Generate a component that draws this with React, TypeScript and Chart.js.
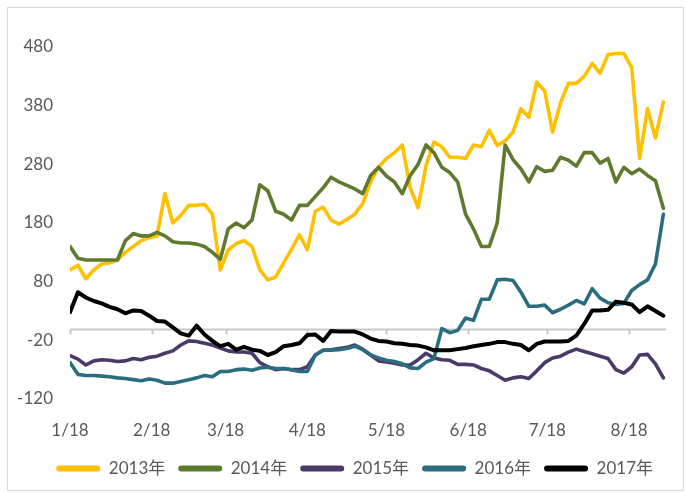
import React, { useEffect, useRef } from "react";
import { Chart, registerables } from "chart.js";

Chart.register(...registerables);

// x positions: days since Jan 18
const dayOffsets = [
  0, 3, 6, 9, 12, 15, 18, 21, 24, 27,
  30, 33, 36, 39, 42, 45, 48, 51, 54, 57,
  60, 63, 66, 69, 72, 75, 78, 81, 84, 87,
  90, 93, 96, 99, 102, 105, 108, 111, 114, 117,
  120, 123, 126, 129, 132, 135, 138, 141, 144, 147,
  150, 153, 156, 159, 162, 165, 168, 171, 174, 177,
  180, 183, 186, 189, 192, 195, 198, 201, 204, 207,
  210, 213, 216, 219, 222, 225,
];

const monthTickDays = [0, 31, 59, 90, 120, 151, 181, 212];
const monthTickLabels = ["1/18", "2/18", "3/18", "4/18", "5/18", "6/18", "7/18", "8/18"];
const yTickValues = [-120, -20, 80, 180, 280, 380, 480];

const seriesNames = ["2013年", "2014年", "2015年", "2016年", "2017年"];
const seriesColors = ["#FFC000", "#5F7A2E", "#4A3A68", "#2A6D7F", "#000000"];

const values2013 = [
  100, 108, 85, 100, 110, 112, 117, 130, 140, 150,
  155, 158, 230, 180, 193, 210, 210, 212, 195, 100,
  134, 145, 150, 140, 100, 83, 88, 112, 135, 160,
  134, 200, 207, 185, 178, 186, 195, 213, 250, 275,
  290, 300, 313, 240, 206, 278, 318, 310, 292, 292,
  290, 313, 310, 338, 312, 320, 335, 375, 360, 420,
  405, 335, 385, 418, 418, 430, 452, 435, 467, 469,
  469, 445, 290, 375, 325, 386,
];

const values2014 = [
  140, 120, 117, 117, 117, 117, 117, 150, 162, 158,
  158, 164, 158, 148, 146, 146, 144, 140, 130, 118,
  170, 180, 172, 185, 245, 235, 200, 195, 185, 210,
  210, 225, 240, 258, 250, 244, 238, 230, 261, 275,
  260, 250, 230, 261, 280, 313, 300, 275, 266, 250,
  195, 170, 140, 140, 180, 313, 288, 272, 250, 276,
  268, 270, 292, 287, 277, 300, 300, 282, 290, 250,
  275, 264, 272, 261, 252, 205,
];

const values2015 = [
  -46, -52, -62, -55, -53, -54, -56, -55, -51, -53,
  -49, -47, -42, -38, -28, -21, -22, -25, -28, -33,
  -38, -40, -40, -42, -58, -65, -70, -68, -70, -70,
  -65, -45, -37, -36, -34, -32, -28, -35, -45, -55,
  -57, -59, -62, -62, -53, -42, -50, -53, -54, -61,
  -61, -62, -68, -72, -80, -88, -84, -82, -85, -72,
  -58, -50, -47, -40, -35, -39, -43, -47, -51, -70,
  -76, -65, -45, -44, -60, -84,
];

const values2016 = [
  -58, -78, -80, -80, -81, -82, -84, -85, -87, -89,
  -86, -88, -93, -93, -90, -87, -84, -80, -82, -73,
  -73, -70, -69, -71, -67, -66, -68, -68, -70, -73,
  -73, -45, -37, -37, -36, -34, -30, -36, -45, -50,
  -54, -56, -60, -67, -68, -57, -51, 0, -7, -3,
  18, 14, 50, 50, 83, 84, 82, 62, 38, 38,
  40, 27, 33, 40, 48, 42, 68, 52, 44, 41,
  43, 65, 75, 83, 110, 195,
];

const values2017 = [
  28, 62, 53, 47, 43, 37, 33, 26, 31, 30,
  22, 13, 12, 2, -8, -12, 5, -10, -21, -30,
  -26, -36, -31, -36, -38, -45, -40, -30, -28, -25,
  -11, -10, -21, -4, -5, -5, -5, -10, -17, -21,
  -22, -25, -26, -28, -29, -32, -37, -37, -37, -35,
  -33, -30, -28, -26, -23, -23, -26, -28, -37, -26,
  -22, -22, -22, -21, -12, 8, 31, 31, 32, 46,
  44, 41, 28, 38, 30, 22,
];

const allSeries = [values2013, values2014, values2015, values2016, values2017];

const FONT_FAMILY = "Lato, 'Noto Sans CJK SC', sans-serif";
const TEXT_COLOR = "#595959";

const zeroLinePlugin = {
  id: "zeroLine",
  beforeDatasetsDraw(chart: any) {
    const { ctx, chartArea, scales } = chart;
    const y = Math.round(scales.y.getPixelForValue(0)) + 0.5;
    ctx.save();
    ctx.strokeStyle = "#c9c9c9";
    ctx.lineWidth = 2;
    ctx.beginPath();
    ctx.moveTo(chartArea.left, y);
    ctx.lineTo(chartArea.right, y);
    for (const t of scales.x.ticks) {
      const x = Math.round(scales.x.getPixelForValue(t.value)) + 0.5;
      ctx.moveTo(x, y);
      ctx.lineTo(x, y + 5);
    }
    ctx.stroke();
    ctx.restore();
  },
};

export default function App() {
  const canvasRef = useRef<HTMLCanvasElement | null>(null);

  useEffect(() => {
    if (!canvasRef.current) return;
    const datasets = allSeries.map((vals, i) => ({
      label: seriesNames[i],
      data: dayOffsets.map((d, j) => ({ x: d, y: vals[j] })),
      borderColor: seriesColors[i],
      backgroundColor: seriesColors[i],
      borderWidth: i === 4 ? 4 : 3.6,
      pointRadius: 0,
      tension: 0,
      borderJoinStyle: "round" as const,
      borderCapStyle: "round" as const,
      order: 5 - i,
    }));

    const chart = new Chart(canvasRef.current, {
      type: "line",
      data: { datasets },
      plugins: [zeroLinePlugin],
      options: {
        animation: false,
        responsive: false,
        devicePixelRatio: 1,
        layout: { padding: { left: 0, right: 20, top: 47, bottom: 6 } },
        scales: {
          x: {
            type: "linear",
            min: 0,
            max: 226,
            grid: { display: false, drawTicks: false },
            border: { display: false },
            afterBuildTicks: (scale: any) => {
              scale.ticks = monthTickDays.map((v) => ({ value: v }));
            },
            afterFit: (scale: any) => {
              scale.height = 48;
            },
            ticks: {
              autoSkip: false,
              maxRotation: 0,
              padding: 21,
              color: TEXT_COLOR,
              font: { family: FONT_FAMILY, size: 17 },
              callback: (v: any) => {
                const k = monthTickDays.indexOf(Number(v));
                return k >= 0 ? monthTickLabels[k] : "";
              },
            },
          },
          y: {
            type: "linear",
            min: -120,
            max: 480,
            grid: { display: false, drawTicks: false },
            border: { display: false },
            afterBuildTicks: (scale: any) => {
              scale.ticks = yTickValues.map((v) => ({ value: v }));
            },
            afterFit: (scale: any) => {
              scale.width = 70;
            },
            ticks: {
              padding: 17,
              color: TEXT_COLOR,
              font: { family: FONT_FAMILY, size: 17 },
            },
          },
        },
        plugins: {
          legend: {
            position: "bottom",
            align: "end",
            labels: {
              boxWidth: 44,
              boxHeight: 6,
              padding: 13,
              useBorderRadius: true,
              borderRadius: 3,
              color: TEXT_COLOR,
              font: { family: FONT_FAMILY, size: 17 },
              generateLabels: (chart: any) =>
                Chart.defaults.plugins.legend.labels
                  .generateLabels(chart)
                  .map((l: any) => ({ ...l, lineWidth: 0 })),
              sort: (a: any, b: any) => a.datasetIndex - b.datasetIndex,
            },
          },
          tooltip: { enabled: false },
        },
      },
    });
    return () => chart.destroy();
  }, []);

  return (
    <div
      style={{
        position: "absolute",
        left: 0,
        top: 0,
        width: 686,
        height: 493,
        background: "#ffffff",
      }}
    >
      <canvas ref={canvasRef} width={686} height={493} style={{ display: "block" }} />
      <div
        style={{
          position: "absolute",
          left: 7,
          top: 7,
          width: 677,
          height: 484,
          boxSizing: "border-box",
          border: "1.5px solid #d9d9d9",
          pointerEvents: "none",
        }}
      />
    </div>
  );
}
